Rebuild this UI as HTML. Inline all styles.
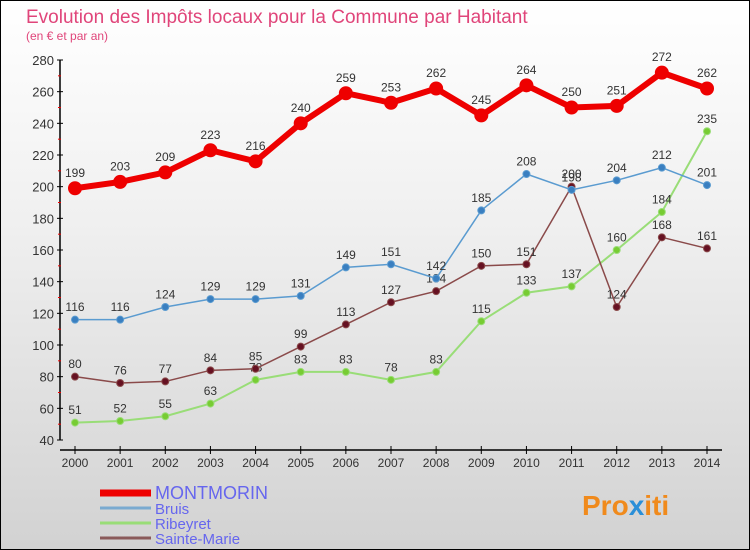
<!DOCTYPE html>
<html><head><meta charset="utf-8"><style>
body{margin:0}
#c{width:750px;height:550px;position:relative;box-sizing:border-box;border:1px solid #000;background:linear-gradient(#ffffff,#f0f0f0 40%,#d2d2d2);font-family:"Liberation Sans",sans-serif;overflow:hidden}
</style></head><body>
<div id="c">
<svg width="750" height="550" style="position:absolute;left:-1px;top:-1px" id="s">
<text x="26" y="23" font-size="19" fill="#e0457a">Evolution des Impôts locaux pour la Commune par Habitant</text>
<text x="26" y="40" font-size="12" fill="#e0457a">(en € et par an)</text>
<g id="axes"></g><g id="marks"></g><g id="legend"></g>
<text x="582" y="515" font-size="28" font-weight="bold" fill="#f08a1c">Pro<tspan fill="#2a8fd8">x</tspan>iti</text>
</svg></div>
<script>
const years=["2000","2001","2002","2003","2004","2005","2006","2007","2008","2009","2010","2011","2012","2013","2014"];
const montmorin=[199,203,209,223,216,240,259,253,262,245,264,250,251,272,262];
const bruis=[116,116,124,129,129,131,149,151,142,185,208,198,204,212,201];
const ribeyret=[51,52,55,63,78,83,83,78,83,115,133,137,160,184,235];
const sainteMarie=[80,76,77,84,85,99,113,127,134,150,151,200,124,168,161];
const yTicks=[40,60,80,100,120,140,160,180,200,220,240,260,280];
const NS="http://www.w3.org/2000/svg";
const X=i=>75+i*(632/14), Y=v=>440-(v-40)*380/240;
function mk(p,t,a,name){const e=document.createElementNS(NS,t);for(const k in a)e.setAttribute(k,a[k]);


p.appendChild(e);return e;}
const ax=document.getElementById('axes');
mk(ax,'line',{x1:60,y1:60,x2:60,y2:440,stroke:'#000','stroke-width':1.5},'y-axis');
mk(ax,'line',{x1:60,y1:450,x2:722,y2:450,stroke:'#000','stroke-width':1.5},'x-axis');
yTicks.forEach(v=>{mk(ax,'line',{x1:57,y1:Y(v),x2:63,y2:Y(v),stroke:'#000'},'y-tick');
const t=mk(ax,'text',{x:54,y:Y(v)+5,'text-anchor':'end','font-size':13,fill:'#333'},'y-tick-label');t.textContent=v;
if(v<280)mk(ax,'line',{x1:58,y1:Y(v+10),x2:61,y2:Y(v+10),stroke:'#e00'},'y-minor-tick');});
years.forEach((y,i)=>{mk(ax,'line',{x1:X(i),y1:446,x2:X(i),y2:454,stroke:'#000'},'x-tick');
const t=mk(ax,'text',{x:X(i),y:467,'text-anchor':'middle','font-size':12,fill:'#333'},'x-tick-label');t.textContent=y;});
const mg=document.getElementById('marks');
function series(d,col,dot,w,r,name){
mk(mg,'polyline',{points:d.map((v,i)=>X(i)+','+Y(v)).join(' '),fill:'none',stroke:col,'stroke-width':w},name+'-line');
d.forEach((v,i)=>{mk(mg,'circle',{cx:X(i),cy:Y(v),r:r,fill:dot,stroke:col,'stroke-width':1},name+'-point');
const t=mk(mg,'text',{x:X(i),y:Y(v)-(r+5),'text-anchor':'middle','font-size':12,fill:'#333'},name+'-value');t.textContent=v;});}
series(ribeyret,'#99dd77','#77cc33',2,3.5,'ribeyret');
series(sainteMarie,'#8a4a4a','#661122',1.5,3.5,'sainte-marie');
series(bruis,'#5a9bd0','#3a7fc0',1.5,3.5,'bruis');
series(montmorin,'#ee0000','#ee0000',6,6.5,'montmorin');
const lg=document.getElementById('legend');
[["MONTMORIN","#ee0000",7,18],["Bruis","#7aaad0",3,15],["Ribeyret","#99dd77",3,15],["Sainte-Marie","#8a5a5a",3,15]].forEach((e,k)=>{
const y=493+k*15;
mk(lg,'line',{x1:100,y1:y,x2:151,y2:y,stroke:e[1],'stroke-width':e[2]},'legend-swatch');
const t=mk(lg,'text',{x:155,y:y+6,'font-size':e[3],fill:'#6666ee'},'legend-entry');t.textContent=e[0];});
</script>
</body></html>
